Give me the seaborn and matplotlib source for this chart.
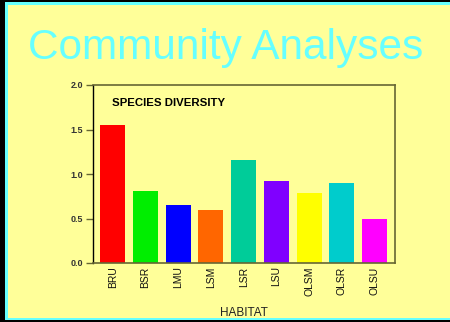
import matplotlib
matplotlib.use("Agg")
import matplotlib.pyplot as plt
from matplotlib.patches import Rectangle
import seaborn as sns
import pandas as pd

habitats = ["BRU", "BSR", "LMU", "LSM", "LSR", "LSU", "OLSM", "OLSR", "OLSU"]
diversity = [1.55, 0.81, 0.65, 0.60, 1.16, 0.92, 0.79, 0.90, 0.49]
bar_colors = ["#FF0000", "#00EE00", "#0000FF", "#FF6600", "#00CC99",
              "#8000FF", "#FFFF00", "#00CCCC", "#FF00FF"]
y_ticks = [0.0, 0.5, 1.0, 1.5, 2.0]

sns.set_theme(style="white")
plt.rcParams["font.family"] = ["Liberation Sans", "DejaVu Sans"]

bg = "#FFFF99"
cyan = "#66FFFF"
W, H = 450, 322

fig = plt.figure(figsize=(W / 100, H / 100), dpi=100, facecolor=bg)

# slide frame: dark strips with a cyan rule
def px_rect(x, y, w, h, color):
    fig.patches.append(Rectangle((x / W, 1 - (y + h) / H), w / W, h / H,
                                 transform=fig.transFigure, color=color,
                                 zorder=0, linewidth=0))

px_rect(0, 0, W, 2.5, "#000000")
px_rect(0, 2.5, W, 2, cyan)
px_rect(0, 0, 5, H, "#000000")
px_rect(5, 2.5, 2.5, H - 2.5, cyan)
px_rect(0, 320, W, 2, "#000000")
px_rect(5, 317.5, W, 2.5, cyan)

fig.text(226 / W, 1 - 48 / H, "Community Analyses", color=cyan,
         fontsize=30.5, ha="center", va="center")

ax = fig.add_axes([93 / W, 1 - 263 / H, (395 - 93) / W, (263 - 85) / H])
ax.set_facecolor(bg)

df = pd.DataFrame({"HABITAT": habitats, "diversity": diversity})
sns.barplot(data=df, x="HABITAT", y="diversity", hue="HABITAT",
            palette=bar_colors, legend=False, width=0.76, saturation=1,
            linewidth=0, edgecolor="none", ax=ax)

ax.set_xlim(-0.6, 8.62)
ax.set_ylim(0, 2.0)
ax.set_yticks(y_ticks)
ax.set_yticklabels([f"{v:.1f}" for v in y_ticks], fontsize=6.5,
                   color="#333333", fontweight="bold")
ax.tick_params(axis="y", length=5, width=1, color="#666633", pad=2, left=True)
ax.tick_params(axis="x", length=0, pad=2.5, labelsize=7.5, labelrotation=90,
               labelcolor="#111111")
ax.set_ylabel("")
ax.set_xlabel("HABITAT", fontsize=8.5, color="#222222", labelpad=8)

for side in ["top", "right", "bottom"]:
    ax.spines[side].set_visible(True)
    ax.spines[side].set_color("#666633")
    ax.spines[side].set_linewidth(1.2)
ax.spines["left"].set_color("#000000")
ax.spines["left"].set_linewidth(1.0)

ax.text(0.063, 0.9, "SPECIES DIVERSITY", transform=ax.transAxes,
        fontsize=8.2, fontweight="bold", color="#000000", va="center")

fig.savefig("out.png", dpi=100, facecolor=bg)
